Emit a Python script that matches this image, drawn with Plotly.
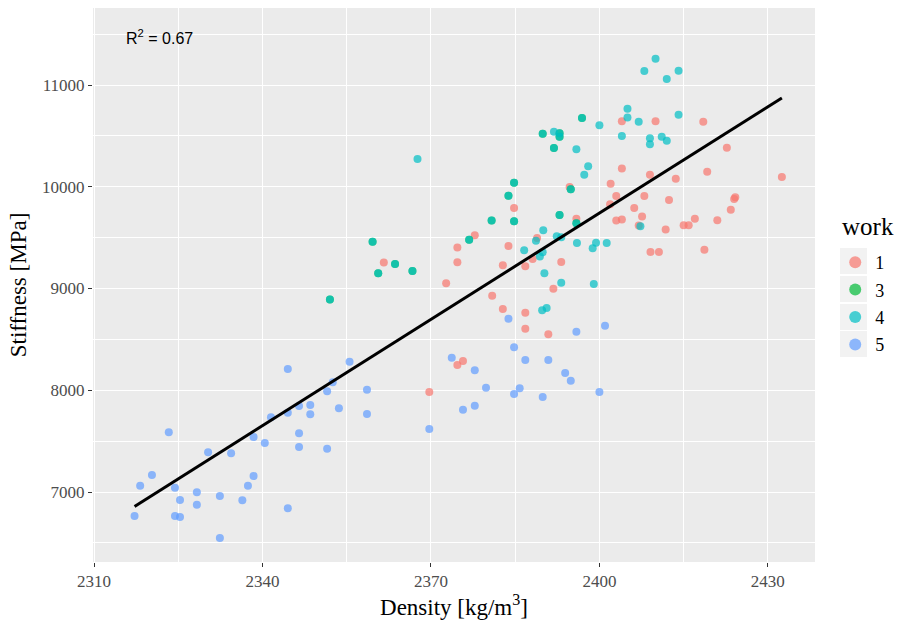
import numpy as np
import plotly.graph_objects as go

# work 1
w1_density = [2369.7, 2374.7, 2375.7, 2382.8, 2386.8, 2386.8, 2390.9, 2384.8, 2377.8, 2374.7,
              2383.8, 2361.6, 2374.7, 2382.8, 2386.8, 2372.7, 2380.9, 2404.0, 2410.0, 2404.0,
              2409.0, 2413.6, 2402.0, 2394.7, 2403.0, 2408.0, 2412.4, 2401.9, 2406.2, 2407.6,
              2403.0, 2404.0, 2407.0, 2411.8, 2415.0, 2415.9, 2417.0, 2421.0, 2418.7, 2409.1,
              2410.6, 2395.9, 2388.9, 2388.1, 2393.2, 2391.8, 2418.5, 2422.7, 2419.2, 2432.5,
              2424.2, 2424.0, 2423.4]
w1_stiff = [7983, 8248, 8288, 8799, 8762, 8605, 8550, 9791, 9523, 9402,
            9418, 9256, 9257, 9228, 9218, 9051, 8929, 10643, 10643, 10180,
            10117, 10078, 10029, 9998, 9909, 9909, 9870, 9827, 9791, 9708,
            9669, 9679, 9620, 9580, 9621, 9621, 9686, 9670, 9382, 9359,
            9359, 9686, 9496, 9290, 9260, 8998, 10639, 10384, 10148, 10096,
            9896, 9880, 9775]

# work 3
w3_density = [2384.8, 2383.8, 2380.8, 2384.8, 2359.6, 2376.8, 2363.6, 2360.6, 2366.7, 2352.0,
              2396.9, 2389.9, 2392.9, 2392.9, 2391.9, 2394.9, 2392.9, 2395.9]
w3_stiff = [10040, 9912, 9668, 9661, 9460, 9480, 9241, 9149, 9172, 8893,
            10676, 10522, 10525, 10492, 10381, 9975, 9723, 9641]

# work 4 (includes the same specimens as work 3)
w4_density = w3_density + [2367.6, 2386.6, 2389.8, 2390.6, 2410.0, 2408.0, 2414.1, 2412.0, 2405.0, 2405.0,
              2407.0, 2414.1, 2400.0, 2391.9, 2395.9, 2404.0, 2409.0, 2409.0, 2411.1, 2412.0,
              2398.0, 2397.3, 2407.3, 2390.0, 2388.7, 2392.4, 2393.2, 2396.0, 2399.4, 2398.8,
              2401.3, 2389.9, 2389.4, 2390.2, 2393.2, 2399.0]
w4_stiff = w3_stiff + [10273, 9376, 8786, 8808, 11259, 11138, 11141, 11059, 10767, 10682,
            10639, 10708, 10604, 10541, 10368, 10499, 10477, 10418, 10492, 10453,
            10202, 10117, 9613, 9572, 9470, 9513, 9503, 9447, 9450, 9395,
            9447, 9357, 9314, 9149, 9057, 9044]

# work 5
w5_density = [2323.3, 2341.5, 2344.5, 2338.4, 2340.4, 2330.3, 2334.4, 2320.3, 2318.2, 2324.4,
              2338.4, 2337.4, 2328.3, 2332.4, 2325.3, 2336.4, 2328.3, 2317.2, 2324.4, 2325.3,
              2332.4, 2344.5, 2344.5, 2355.5, 2352.5, 2351.5, 2358.6, 2346.5, 2348.5, 2348.5,
              2353.6, 2358.6, 2346.5, 2346.5, 2351.5, 2369.7, 2373.7, 2377.8, 2375.7, 2377.8,
              2383.8, 2395.9, 2401.0, 2384.8, 2386.8, 2390.9, 2393.9, 2394.9, 2379.8, 2385.8,
              2384.8, 2389.9, 2400.0]
w5_stiff = [7587, 7734, 7779, 7540, 7481, 7390, 7380, 7167, 7062, 7042,
            7157, 7062, 6997, 6961, 6921, 6918, 6875, 6764, 6764, 6754,
            6548, 6840, 8209, 8281, 8078, 7990, 8005, 7845, 7855, 7763,
            7822, 7767, 7577, 7442, 7426, 7619, 8320, 8196, 7809, 7848,
            8703, 8576, 8635, 8422, 8297, 8297, 8170, 8094, 8025, 8019,
            7963, 7934, 7983]

work_labels = ["1", "3", "4", "5"]
colors = ["#F8766D", "#00BA38", "#00BFC4", "#619CFF"]
x_ticks = [2310, 2340, 2370, 2400, 2430]
y_ticks = [7000, 8000, 9000, 10000, 11000]
r2_label = "R<sup>2</sup> = 0.67"

series = [(w1_density, w1_stiff), (w3_density, w3_stiff), (w4_density, w4_stiff), (w5_density, w5_stiff)]

fig = go.Figure()
for (xs, ys), lab, col in zip(series, work_labels, colors):
    fig.add_trace(go.Scatter(x=xs, y=ys, mode="markers", name=lab, legendgroup="w" + lab,
                             marker=dict(color=col, size=8, opacity=0.7, line=dict(width=0))))

all_x = np.array(w1_density + w3_density + w4_density + w5_density)
all_y = np.array(w1_stiff + w3_stiff + w4_stiff + w5_stiff)
slope, intercept = np.polyfit(all_x, all_y, 1)
lx = np.array([all_x.min(), all_x.max()])
fig.add_trace(go.Scatter(x=lx, y=slope * lx + intercept, mode="lines",
                         line=dict(color="black", width=3), showlegend=False, hoverinfo="skip"))

serif = "Liberation Serif"
fig.add_annotation(text=r2_label, xref="paper", yref="paper", x=0.043, y=0.948,
                   xanchor="left", yanchor="middle", showarrow=False,
                   font=dict(family="Liberation Sans, Arial", size=16, color="black"))

# legend title
fig.add_annotation(text="work", xref="paper", yref="paper", x=(840 - 93) / 722, y=(562 - 227) / 554,
                   xanchor="left", yanchor="middle", showarrow=False,
                   font=dict(family=serif, size=25, color="black"))

axis_common = dict(showgrid=True, gridcolor="white", gridwidth=1.4, zeroline=False,
                   ticks="outside", ticklen=4, tickcolor="#333333", tickwidth=1,
                   tickfont=dict(family=serif, size=17, color="#4D4D4D"),
                   showline=False,
                   minor=dict(showgrid=True, gridcolor="white", gridwidth=0.6, ticks=""))

fig.update_xaxes(range=[2309.8, 2438.4], tickvals=x_ticks, ticktext=[str(v) for v in x_ticks],
                 title=dict(text="Density [kg/m<sup>3</sup>]", font=dict(family=serif, size=23, color="black"), standoff=5),
                 **axis_common)
fig.update_xaxes(minor=dict(tickvals=[2325, 2355, 2385, 2415]))
fig.update_yaxes(range=[6312, 11757], tickvals=y_ticks, ticktext=[str(v) for v in y_ticks],
                 title=dict(text="Stiffness [MPa]", font=dict(family=serif, size=23, color="black"), standoff=9),
                 **axis_common)
fig.update_yaxes(minor=dict(tickvals=[6500, 7500, 8500, 9500, 10500, 11500]))

# legend key backgrounds (ggplot style)
key_centers_px = [261, 289, 317, 344]
for cy in key_centers_px:
    fig.add_shape(type="rect", xref="paper", yref="paper", layer="below",
                  x0=(840 - 93) / 722, x1=(867 - 93) / 722,
                  y0=(562 - (cy + 13)) / 554, y1=(562 - (cy - 13)) / 554,
                  fillcolor="#F2F2F2", line=dict(width=0))

fig.update_layout(
    width=897, height=624,
    margin=dict(l=93, r=82, t=8, b=62),
    plot_bgcolor="#EBEBEB", paper_bgcolor="white",
    legend=dict(font=dict(family=serif, size=18, color="black"),
                x=1.028, y=(562 - 244) / 554, xanchor="left", yanchor="top",
                bgcolor="rgba(0,0,0,0)", itemsizing="constant", tracegroupgap=1),
    showlegend=True,
)

fig.write_html("out.html")
